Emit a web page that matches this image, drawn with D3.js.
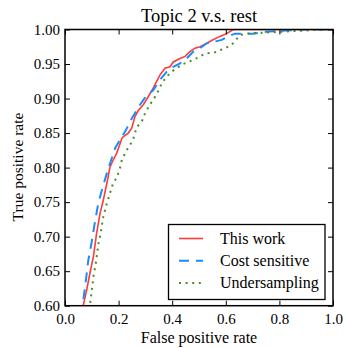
<!DOCTYPE html>
<html>
<head>
<meta charset="utf-8">
<script src="https://cdn.jsdelivr.net/npm/d3@7"></script>
<style>
  html, body { margin: 0; padding: 0; background: #fff; }
  svg { display: block; font-family: "Liberation Serif", "DejaVu Serif", serif; }
</style>
</head>
<body>
<svg id="chart" width="345" height="348"></svg>
<script>
// ROC points: [false positive rate, true positive rate]
const thisWork = [
  [0.062, 0.585], [0.068, 0.600], [0.081, 0.623], [0.093, 0.647], [0.106, 0.671], [0.118, 0.705],
  [0.131, 0.734], [0.143, 0.753], [0.156, 0.777], [0.168, 0.801], [0.180, 0.811],
  [0.193, 0.821], [0.212, 0.842], [0.218, 0.845], [0.236, 0.850], [0.249, 0.857],
  [0.261, 0.874], [0.274, 0.883], [0.292, 0.891], [0.311, 0.903], [0.329, 0.915],
  [0.354, 0.934], [0.373, 0.944], [0.392, 0.946], [0.404, 0.953], [0.429, 0.958],
  [0.448, 0.961], [0.466, 0.968], [0.485, 0.973], [0.504, 0.975], [0.529, 0.980],
  [0.547, 0.984], [0.578, 0.990], [0.603, 0.994], [0.628, 1.000], [1.000, 1.000]
]
const costSensitive = [
  [0.060, 0.585], [0.066, 0.601], [0.078, 0.637], [0.087, 0.666], [0.100, 0.693], [0.112, 0.722],
  [0.124, 0.748], [0.143, 0.775], [0.162, 0.799], [0.187, 0.828], [0.212, 0.845],
  [0.224, 0.852], [0.249, 0.871], [0.280, 0.891], [0.305, 0.905], [0.329, 0.912],
  [0.354, 0.927], [0.380, 0.939], [0.404, 0.946], [0.429, 0.951], [0.454, 0.958],
  [0.479, 0.968], [0.504, 0.973], [0.529, 0.980], [0.553, 0.982], [0.585, 0.985],
  [0.609, 0.990], [0.634, 0.994], [0.700, 0.994], [0.740, 0.996], [0.760, 0.997],
  [0.800, 0.998], [0.850, 0.999], [0.890, 1.000], [1.000, 1.000]
]
const underSampling = [
  [0.088, 0.585], [0.093, 0.600], [0.100, 0.623], [0.106, 0.642], [0.116, 0.664], [0.124, 0.688],
  [0.133, 0.705], [0.143, 0.729], [0.156, 0.748], [0.168, 0.763], [0.180, 0.778],
  [0.193, 0.785], [0.205, 0.799], [0.212, 0.811], [0.230, 0.825], [0.243, 0.833],
  [0.255, 0.842], [0.268, 0.859], [0.286, 0.866], [0.299, 0.879], [0.323, 0.895],
  [0.342, 0.906], [0.361, 0.922], [0.380, 0.932], [0.398, 0.939], [0.417, 0.944],
  [0.435, 0.949], [0.460, 0.953], [0.479, 0.956], [0.504, 0.961], [0.522, 0.965],
  [0.560, 0.967], [0.585, 0.971], [0.603, 0.974], [0.622, 0.978], [0.640, 0.986],
  [0.653, 0.992], [0.678, 0.994], [0.720, 0.995], [0.770, 0.996], [0.820, 0.997],
  [0.870, 0.998], [0.920, 0.999], [0.970, 1.000], [1.000, 1.000]
]

const seriesNames = ["This work", "Cost sensitive", "Undersampling"]
const xTicks = [0.0, 0.2, 0.4, 0.6, 0.8, 1.0]
const yTicks = [0.60, 0.65, 0.70, 0.75, 0.80, 0.85, 0.90, 0.95, 1.00]

const series = [
  { name: seriesNames[0], data: thisWork, color: "#ff3a3a", width: 1.6, dash: null },
  { name: seriesNames[1], data: costSensitive, color: "#1a8cff", width: 2, dash: "10,7" },
  { name: seriesNames[2], data: underSampling, color: "#4b8a2a", width: 2, dash: "2,4.6" }
]

const svg = d3.select("#chart")
const plotL = 65, plotR = 333, plotT = 29.5, plotB = 305.7

const x = d3.scaleLinear().domain([0, 1]).range([plotL, plotR])
const y = d3.scaleLinear().domain([0.6, 1.0]).range([plotB, plotT])

svg.append("defs").append("clipPath")
  .attr("id", "plot-clip")
  .append("rect")
  .attr("x", plotL).attr("y", plotT)
  .attr("width", plotR - plotL).attr("height", plotB - plotT)

// Curves
const line = d3.line().x(d => x(d[0])).y(d => y(d[1]))
const curves = svg.append("g").attr("clip-path", "url(#plot-clip)")
series.forEach(s => {
  curves.append("path")
    .datum(s.data)
    .attr("d", line)
    .attr("fill", "none")
    .attr("stroke", s.color)
    .attr("stroke-width", s.width)
    .attr("stroke-dasharray", s.dash)
})

// Axes with inward ticks on all four sides
const tickLen = 5
const axisB = d3.axisBottom(x).tickValues(xTicks).tickSize(-tickLen).tickPadding(8).tickFormat(d3.format(".1f"))
const axisT = d3.axisTop(x).tickValues(xTicks).tickSize(-tickLen).tickFormat(() => "")
const axisL = d3.axisLeft(y).tickValues(yTicks).tickSize(-tickLen).tickPadding(5).tickFormat(d3.format(".2f"))
const axisR = d3.axisRight(y).tickValues(yTicks).tickSize(-tickLen).tickFormat(() => "")

function styleAxis(g) {
  g.attr("font-family", null).attr("font-size", null)
  g.select(".domain").remove()
  g.selectAll(".tick line").attr("stroke", "#000").attr("stroke-width", 1)
  g.selectAll(".tick text")
    .attr("fill", "#000")
    .style("font-family", "'Liberation Serif', serif")
    .style("font-size", "15px")
}

svg.append("g").attr("transform", `translate(0,${plotB})`).call(axisB).call(styleAxis)
svg.append("g").attr("transform", `translate(0,${plotT})`).call(axisT).call(styleAxis)
svg.append("g").attr("transform", `translate(${plotL},0)`).call(axisL).call(styleAxis)
svg.append("g").attr("transform", `translate(${plotR},0)`).call(axisR).call(styleAxis)

// Frame
svg.append("rect")
  .attr("x", plotL).attr("y", plotT)
  .attr("width", plotR - plotL).attr("height", plotB - plotT)
  .attr("fill", "none")
  .attr("stroke", "#000")
  .attr("stroke-width", 1.5)

// Title and axis labels
svg.append("text")
  .attr("x", (plotL + plotR) / 2).attr("y", 22)
  .attr("text-anchor", "middle")
  .style("font-size", "18.5px")
  .text("Topic 2 v.s. rest")

svg.append("text")
  .attr("x", (plotL + plotR) / 2).attr("y", 343)
  .attr("text-anchor", "middle")
  .style("font-size", "16px")
  .text("False positive rate")

svg.append("text")
  .attr("transform", `translate(23,167) rotate(-90)`)
  .attr("text-anchor", "middle")
  .style("font-size", "15.5px")
  .text("True positive rate")

// Legend
const legend = svg.append("g")
legend.append("rect")
  .attr("x", 168.5).attr("y", 224.5)
  .attr("width", 156.5).attr("height", 75)
  .attr("fill", "#fff")
  .attr("stroke", "#000")
  .attr("stroke-width", 1.3)

series.forEach((s, i) => {
  const ly = 238.5 + i * 22.2
  legend.append("line")
    .attr("x1", 179).attr("x2", 203)
    .attr("y1", ly).attr("y2", ly)
    .attr("stroke", s.color)
    .attr("stroke-width", s.width)
    .attr("stroke-dasharray", s.dash)
  legend.append("text")
    .attr("x", 220).attr("y", ly + 5)
    .style("font-size", "16px")
    .text(s.name)
})
</script>
</body>
</html>
